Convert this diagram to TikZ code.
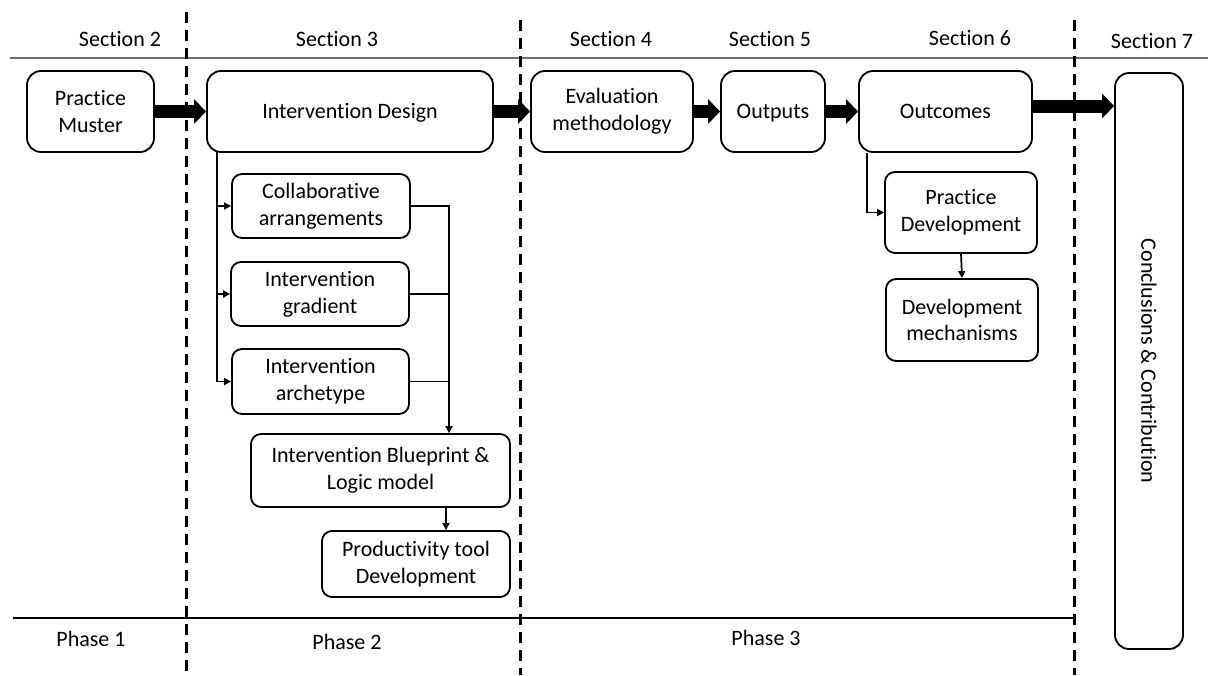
\documentclass[tikz,border=0pt]{standalone}
\usepackage{fontspec}
\setmainfont{Carlito}[Ligatures=NoCommon]
\usetikzlibrary{arrows.meta,calc}
\definecolor{rulegray}{RGB}{110,110,110}
\begin{document}
\begin{tikzpicture}[x=1pt,y=-1pt,
  every node/.style={font=\fontsize{22}{26.8}\selectfont, inner sep=0pt},
  box/.style={draw, line width=1.8pt, rounded corners=14pt, align=center},
  subbox/.style={draw, line width=1.8pt, rounded corners=10pt, align=center},
  oneline/.style={text height=14pt, text depth=0pt},
  bigarrow/.style={line width=13pt, -{Triangle[length=12pt,width=24pt]}},
  link/.style={line width=1.7pt},
  linkarrow/.style={link, -{Triangle[length=7pt,width=7pt]}},
  divider/.style={line width=3pt, dash pattern=on 11pt off 7pt},
]
\useasboundingbox (0,0) rectangle (1208,675);

% section rules and phase dividers
\draw[rulegray, line width=1.5pt] (10,58) -- (1208,58);
\draw[line width=1.6pt] (13,618) -- (1074,618);
\draw[divider] (186,12) -- (186,675);
\draw[divider] (520,20) -- (520,675);
\draw[divider] (1074,20) -- (1074,675);

% section headings
\node[anchor=base] (s2) at (120,46) {Section 2};
\node[anchor=base] (s3) at (337,46) {Section 3};
\node[anchor=base] (s4) at (611,46.5) {Section 4};
\node[anchor=base] (s5) at (770,46.5) {Section 5};
\node[anchor=base] (s6) at (970,45) {Section 6};
\node[anchor=base] (s7) at (1152,48) {Section 7};

% phase labels
\node[anchor=base] (p1) at (91,646) {Phase 1};
\node[anchor=base] (p2) at (347,649) {Phase 2};
\node[anchor=base] (p3) at (766,645) {Phase 3};

% main row
\node[box, minimum width=127, minimum height=81] (pm) at (90.5,111.5) {Practice\\Muster};
\node[box, oneline, minimum width=286, minimum height=81] (idz) at (350,111.5) {Intervention Design};
\node[box, minimum width=162, minimum height=81] (ev) at (612,111.5) {Evaluation\\methodology};
\node[box, oneline, minimum width=104, minimum height=81] (out) at (773,111.5) {Outputs};
\node[box, oneline, minimum width=173, minimum height=81] (oc) at (945.5,111.5) {Outcomes};
\node[box, minimum width=68, minimum height=576] (cc) at (1149,361) {};
\node[rotate=-90] (cctext) at (cc.center) {Conclusions \& Contribution};

% design components
\node[subbox, minimum width=178, minimum height=64] (ca) at (321,206) {Collaborative\\arrangements};
\node[subbox, minimum width=178, minimum height=64] (ig) at (320,294) {Intervention\\gradient};
\node[subbox, minimum width=177, minimum height=65] (ia) at (320.5,381.5) {Intervention\\archetype};
\node[subbox, minimum width=259, minimum height=73] (bp) at (380.5,470.5) {Intervention Blueprint \&\\Logic model};
\node[subbox, minimum width=188, minimum height=66] (pt) at (416,564) {Productivity tool\\Development};

% outcome components
\node[subbox, minimum width=152, minimum height=81] (pd) at (961,212.5) {Practice\\Development};
\node[subbox, minimum width=152, minimum height=82] (dm) at (962,320) {Development\\mechanisms};

% main flow
\draw[bigarrow] (pm.east) -- (idz.west);
\draw[bigarrow] (idz.east) -- (ev.west);
\draw[bigarrow] (ev.east) -- (out.west);
\draw[bigarrow] (out.east) -- (oc.west);
\draw[bigarrow] ([yshift=5.5pt]oc.east) -- ([yshift=5.5pt]oc.east -| cc.west);

% branching inside section 3
\coordinate (trunk) at (217,152);
\coordinate (bus) at (449,206);
\coordinate (drop) at (446,507);
\draw[linkarrow] (trunk) |- (ia.west);
\draw[linkarrow] (trunk |- ca.west) -- (ca.west);
\draw[linkarrow] (trunk |- ig.west) -- (ig.west);
\draw[linkarrow] (ca.east) -| (bus |- bp.north);
\draw[link] (ig.east) -- (ig.east -| bus);
\draw[link] (ia.east) -- (ia.east -| bus);
\draw[linkarrow] (drop) -- (drop |- pt.north);

% branching inside section 6
\draw[linkarrow] ([xshift=9pt]oc.south west) |- (pd.west);
\draw[linkarrow] (pd.south) -- (dm.north);
\end{tikzpicture}
\end{document}
